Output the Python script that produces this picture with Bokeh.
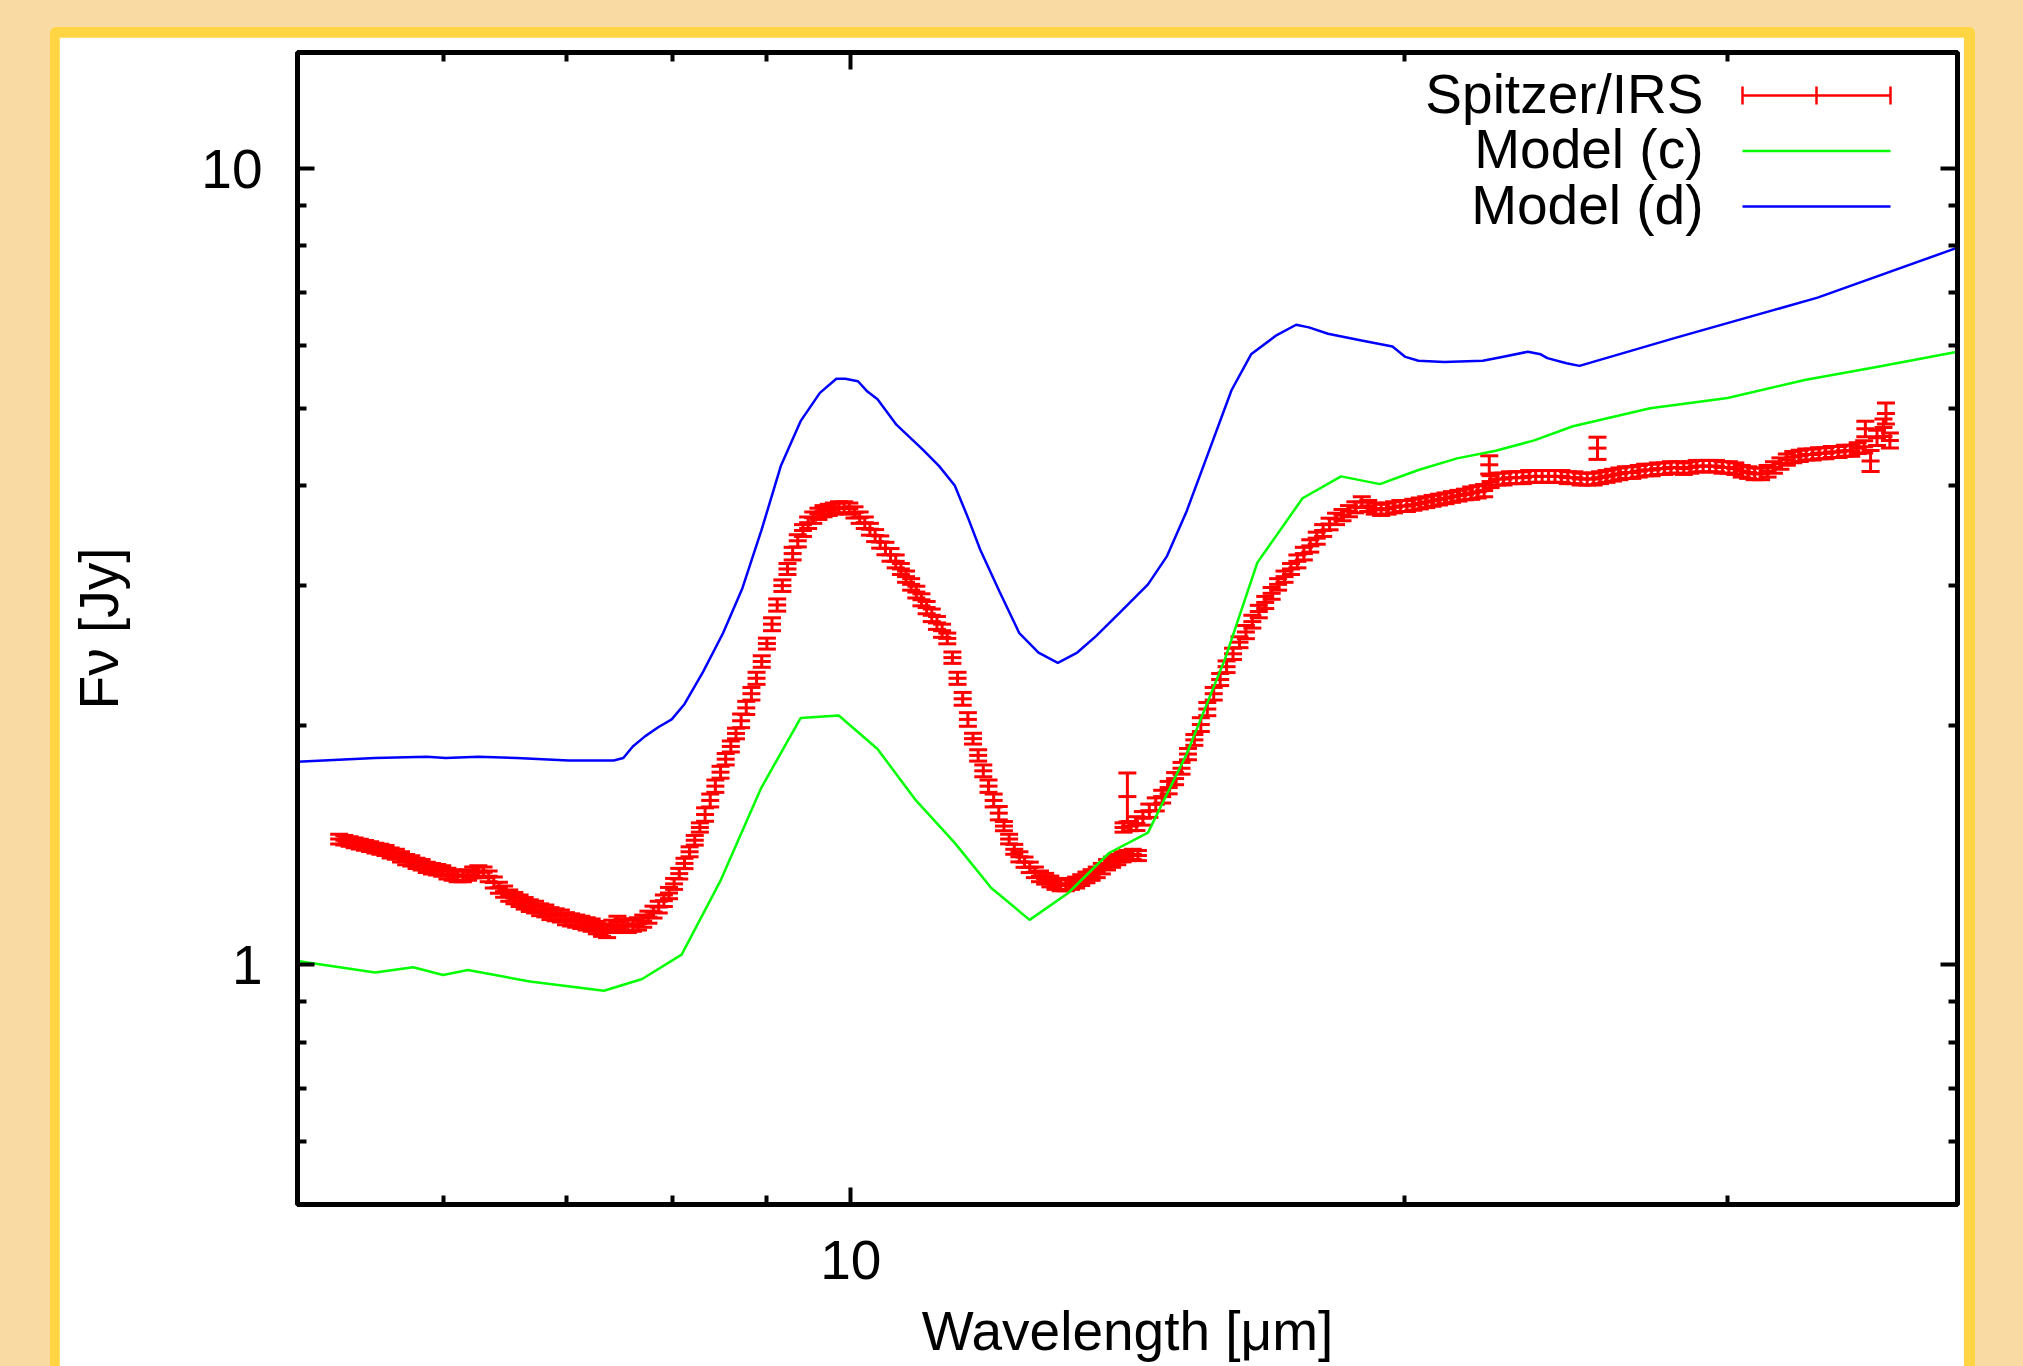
import numpy as np
from bokeh.plotting import figure
from bokeh.layouts import column
from bokeh.models import (Range1d, FixedTicker, LogAxis, Label, Arrow,
                          ColumnDataSource, BasicTickFormatter)
from bokeh.embed import file_html
from bokeh.resources import INLINE

# ---------------- data ----------------
# Spitzer/IRS short-low part
wl_sl = [5.268, 5.302, 5.337, 5.371, 5.406, 5.441, 5.476, 5.512, 5.547, 5.583,
         5.619, 5.656, 5.692, 5.729, 5.766, 5.804, 5.841, 5.879, 5.917, 5.956,
         5.994, 6.033, 6.072, 6.111, 6.151, 6.191, 6.231, 6.271, 6.312, 6.353,
         6.394, 6.435, 6.477, 6.519, 6.561, 6.604, 6.646, 6.689, 6.733, 6.776,
         6.820, 6.864, 6.909, 6.954, 6.999, 7.044, 7.089, 7.135, 7.182, 7.228,
         7.275, 7.322, 7.369, 7.417, 7.465, 7.513, 7.562, 7.611, 7.660, 7.710,
         7.760, 7.810, 7.861, 7.912, 7.963, 8.014, 8.066, 8.119, 8.171, 8.224,
         8.277, 8.331, 8.385, 8.439, 8.494, 8.549, 8.604, 8.660, 8.716, 8.772,
         8.829, 8.886, 8.944, 9.002, 9.060, 9.119, 9.178, 9.237, 9.297, 9.357,
         9.418, 9.479, 9.540, 9.602, 9.664, 9.727, 9.790, 9.853, 9.917, 9.981,
         10.046, 10.111, 10.176, 10.242, 10.309, 10.375, 10.443, 10.510, 10.578, 10.647,
         10.716, 10.785, 10.855, 10.925, 10.996, 11.067, 11.139, 11.211, 11.284, 11.357,
         11.430, 11.504, 11.579, 11.654, 11.729, 11.805, 11.882, 11.959, 12.036, 12.114,
         12.193, 12.272, 12.351, 12.431, 12.512, 12.593, 12.674, 12.756, 12.839, 12.922,
         13.006, 13.090, 13.175, 13.260, 13.346, 13.433, 13.520, 13.607, 13.695, 13.784,
         13.873, 13.963, 14.053, 14.144, 14.236, 14.328]
f_sl = [1.439, 1.434, 1.429, 1.423, 1.418, 1.413, 1.408, 1.402, 1.397, 1.392,
        1.382, 1.377, 1.367, 1.356, 1.351, 1.341, 1.336, 1.326, 1.321, 1.317,
        1.312, 1.302, 1.297, 1.292, 1.292, 1.297, 1.307, 1.312, 1.307, 1.292,
        1.269, 1.250, 1.236, 1.222, 1.213, 1.204, 1.195, 1.187, 1.182, 1.173,
        1.169, 1.160, 1.156, 1.152, 1.143, 1.139, 1.135, 1.131, 1.126, 1.122,
        1.114, 1.106, 1.102, 1.118, 1.131, 1.122, 1.118, 1.122, 1.126, 1.135,
        1.148, 1.165, 1.182, 1.204, 1.231, 1.264, 1.302, 1.341, 1.387, 1.434,
        1.488, 1.545, 1.609, 1.677, 1.746, 1.813, 1.881, 1.953, 2.026, 2.103,
        2.191, 2.291, 2.405, 2.533, 2.679, 2.832, 2.995, 3.143, 3.286, 3.410,
        3.513, 3.593, 3.646, 3.687, 3.715, 3.729, 3.743, 3.757, 3.757, 3.743,
        3.702, 3.646, 3.593, 3.526, 3.462, 3.398, 3.335, 3.274, 3.213, 3.143,
        3.074, 3.006, 2.940, 2.875, 2.811, 2.749, 2.689, 2.629, 2.571, 2.432,
        2.291, 2.159, 2.034, 1.924, 1.833, 1.753, 1.677, 1.609, 1.551, 1.494,
        1.439, 1.397, 1.367, 1.346, 1.326, 1.307, 1.292, 1.283, 1.273, 1.264,
        1.259, 1.259, 1.264, 1.269, 1.278, 1.288, 1.297, 1.307, 1.321, 1.336,
        1.346, 1.356, 1.367, 1.372, 1.377, 1.372]
e_sl = [0.02, 0.02, 0.02, 0.02, 0.02, 0.02, 0.02, 0.02, 0.02, 0.02,
        0.02, 0.02, 0.02, 0.02, 0.02, 0.02, 0.02, 0.02, 0.02, 0.02,
        0.02, 0.02, 0.02, 0.02, 0.02, 0.02, 0.02, 0.02, 0.02, 0.02,
        0.02, 0.02, 0.02, 0.02, 0.02, 0.02, 0.02, 0.02, 0.02, 0.02,
        0.02, 0.02, 0.02, 0.02, 0.02, 0.02, 0.02, 0.02, 0.02, 0.02,
        0.02, 0.02, 0.02, 0.02, 0.02, 0.02, 0.02, 0.02, 0.02, 0.02,
        0.02, 0.02, 0.02, 0.02, 0.02, 0.02, 0.02, 0.02, 0.02, 0.02,
        0.02, 0.03, 0.03, 0.03, 0.03, 0.03, 0.03, 0.03, 0.04, 0.04,
        0.04, 0.04, 0.04, 0.04, 0.05, 0.05, 0.05, 0.05, 0.06, 0.06,
        0.06, 0.06, 0.06, 0.06, 0.06, 0.06, 0.06, 0.06, 0.06, 0.06,
        0.06, 0.06, 0.06, 0.06, 0.06, 0.06, 0.06, 0.06, 0.06, 0.05,
        0.05, 0.05, 0.05, 0.05, 0.05, 0.05, 0.05, 0.05, 0.04, 0.04,
        0.04, 0.04, 0.04, 0.03, 0.03, 0.03, 0.03, 0.03, 0.03, 0.02,
        0.02, 0.02, 0.02, 0.02, 0.02, 0.02, 0.02, 0.02, 0.02, 0.02,
        0.02, 0.02, 0.02, 0.02, 0.02, 0.02, 0.02, 0.02, 0.02, 0.02,
        0.02, 0.02, 0.02, 0.02, 0.02, 0.02]

# Spitzer/IRS long-low part
wl_ll = [14.072, 14.186, 14.301, 14.417, 14.534, 14.652, 14.770, 14.890, 15.011, 15.132,
         15.255, 15.378, 15.503, 15.629, 15.755, 15.883, 16.011, 16.141, 16.272, 16.403,
         16.536, 16.670, 16.805, 16.941, 17.078, 17.216, 17.356, 17.496, 17.638, 17.781,
         17.925, 18.070, 18.216, 18.364, 18.513, 18.663, 18.814, 18.966, 19.120, 19.275,
         19.431, 19.588, 19.747, 19.907, 20.068, 20.231, 20.395, 20.560, 20.726, 20.894,
         21.063, 21.234, 21.406, 21.579, 21.754, 21.930, 22.108, 22.287, 22.468, 22.650,
         22.833, 23.018, 23.204, 23.392, 23.582, 23.773, 23.965, 24.159, 24.355, 24.552,
         24.751, 24.952, 25.154, 25.358, 25.563, 25.770, 25.979, 26.189, 26.401, 26.615,
         26.831, 27.048, 27.267, 27.488, 27.711, 27.935, 28.162, 28.390, 28.620, 28.851,
         29.085, 29.321, 29.558, 29.798, 30.039, 30.282, 30.528, 30.775, 31.024, 31.275,
         31.529, 31.784, 32.042, 32.301, 32.563, 32.827, 33.093, 33.361, 33.631, 33.903,
         34.178, 34.455, 34.734, 35.015, 35.299, 35.585, 35.873, 36.164, 36.457, 36.752]
f_ll = [1.488, 1.494, 1.505, 1.528, 1.562, 1.591, 1.627, 1.670, 1.714, 1.766,
        1.840, 1.917, 2.004, 2.096, 2.191, 2.283, 2.369, 2.459, 2.543, 2.619,
        2.699, 2.779, 2.853, 2.929, 3.006, 3.074, 3.143, 3.213, 3.286, 3.360,
        3.436, 3.513, 3.580, 3.633, 3.673, 3.715, 3.757, 3.813, 3.771, 3.743,
        3.729, 3.743, 3.757, 3.771, 3.771, 3.785, 3.799, 3.813, 3.828, 3.842,
        3.856, 3.871, 3.885, 3.899, 3.914, 3.929, 3.943, 4.047, 4.077, 4.077,
        4.093, 4.093, 4.093, 4.108, 4.108, 4.108, 4.108, 4.108, 4.108, 4.093,
        4.093, 4.077, 4.077, 4.077, 4.093, 4.108, 4.123, 4.139, 4.154, 4.154,
        4.170, 4.185, 4.185, 4.201, 4.201, 4.216, 4.216, 4.201, 4.216, 4.232,
        4.232, 4.232, 4.232, 4.216, 4.216, 4.201, 4.170, 4.154, 4.139, 4.139,
        4.170, 4.216, 4.264, 4.312, 4.344, 4.360, 4.376, 4.376, 4.392, 4.392,
        4.409, 4.409, 4.425, 4.425, 4.458, 4.475, 4.296, 4.593, 4.731, 4.559]
e_ll = [0.02, 0.02, 0.03, 0.03, 0.03, 0.03, 0.03, 0.03, 0.03, 0.03,
        0.03, 0.03, 0.04, 0.04, 0.04, 0.04, 0.04, 0.04, 0.04, 0.05,
        0.05, 0.05, 0.05, 0.05, 0.05, 0.05, 0.05, 0.06, 0.06, 0.06,
        0.06, 0.06, 0.06, 0.06, 0.06, 0.06, 0.06, 0.06, 0.06, 0.06,
        0.06, 0.06, 0.06, 0.06, 0.06, 0.06, 0.06, 0.06, 0.06, 0.06,
        0.06, 0.06, 0.06, 0.06, 0.07, 0.07, 0.07, 0.07, 0.07, 0.07,
        0.07, 0.07, 0.07, 0.07, 0.07, 0.07, 0.07, 0.07, 0.07, 0.07,
        0.07, 0.07, 0.07, 0.07, 0.07, 0.07, 0.07, 0.07, 0.07, 0.07,
        0.07, 0.07, 0.07, 0.07, 0.07, 0.07, 0.07, 0.07, 0.07, 0.07,
        0.07, 0.07, 0.07, 0.07, 0.07, 0.07, 0.07, 0.07, 0.07, 0.07,
        0.07, 0.07, 0.07, 0.07, 0.07, 0.07, 0.07, 0.07, 0.07, 0.07,
        0.07, 0.07, 0.07, 0.07, 0.07, 0.08, 0.13, 0.10, 0.12, 0.10]

# isolated points with large error bars
wl_out = [14.140, 22.25, 25.48, 35.64, 36.57]
f_out = [1.627, 4.248, 4.458, 4.714, 4.929]
e_out = [0.115, 0.112, 0.143, 0.106, 0.149]

# Model (c)
wl_c = [5.00, 5.51, 5.78, 6.00, 6.19, 6.69, 7.34, 7.70, 8.09, 8.49, 8.94, 9.39, 9.85,
        10.34, 10.85, 11.39, 11.92, 12.51, 13.13, 13.82, 14.51, 15.23, 15.98, 16.64,
        17.61, 18.48, 19.40, 20.36, 21.37, 22.43, 23.54, 24.71, 27.22, 29.99, 33.03,
        36.39, 40.00]
f_c = [1.011, 0.978, 0.993, 0.971, 0.985, 0.953, 0.928, 0.960, 1.030, 1.273, 1.670,
       2.042, 2.057, 1.867, 1.609, 1.423, 1.250, 1.139, 1.231, 1.382, 1.466, 1.840,
       2.423, 3.201, 3.856, 4.108, 4.017, 4.185, 4.328, 4.425, 4.559, 4.749, 5.003,
       5.154, 5.429, 5.655, 5.891]

# Model (d)
wl_d = [5.00, 5.51, 5.88, 6.02, 6.27, 6.58, 7.02, 7.43, 7.52, 7.61, 7.73, 7.86, 7.99,
        8.12, 8.31, 8.52, 8.73, 8.94, 9.16, 9.39, 9.62, 9.82, 9.93, 10.09, 10.21,
        10.34, 10.59, 10.94, 11.17, 11.39, 11.58, 11.76, 12.05, 12.35, 12.65, 12.96,
        13.28, 13.60, 14.05, 14.51, 14.86, 15.23, 15.60, 16.11, 16.51, 17.05, 17.47,
        17.75, 18.18, 18.93, 19.71, 20.03, 20.36, 21.03, 22.07, 22.61, 23.35, 23.73,
        23.93, 24.51, 24.91, 28.12, 33.57, 40.00]
f_d = [1.799, 1.819, 1.826, 1.819, 1.826, 1.819, 1.806, 1.806, 1.819, 1.881, 1.938,
       1.990, 2.034, 2.127, 2.334, 2.610, 2.973, 3.513, 4.232, 4.820, 5.231, 5.449,
       5.449, 5.409, 5.250, 5.135, 4.767, 4.442, 4.232, 4.002, 3.646, 3.323, 2.940,
       2.610, 2.468, 2.396, 2.468, 2.590, 2.790, 3.006, 3.262, 3.715, 4.312, 5.270,
       5.848, 6.183, 6.370, 6.322, 6.206, 6.092, 5.980, 5.804, 5.740, 5.719, 5.740,
       5.804, 5.891, 5.848, 5.783, 5.698, 5.655, 6.137, 6.889, 7.961]

x_major = [10]
x_minor = [6, 7, 8, 9, 20, 30]
y_major = [1, 10]
y_minor = [0.6, 0.7, 0.8, 0.9, 2, 3, 4, 5, 6, 7, 8, 9]
x_labels = {10: "10"}
y_labels = {1: "1", 10: "10"}
legend_names = ["Spitzer/IRS", "Model (c)", "Model (d)"]
x_title = "Wavelength [\u03bcm]"
y_title = "F\u03bd [Jy]"

assert len(wl_sl) == len(f_sl) == len(e_sl)
assert len(wl_ll) == len(f_ll) == len(e_ll)
assert len(wl_c) == len(f_c) and len(wl_d) == len(f_d)

# ---------------- styling ----------------
PEACH = "#F8DAA2"
YELLOW = "#FFD543"
RED = "#FF0000"
GREEN = "#00FF00"
BLUE = "#0000FF"
FONT = "Liberation Sans"
FS = "55px"

W, H = 2023, 1366
# white panel (figure canvas) placed at page (PX, PY)
PX, PY = 59, 37
PW, PH = 1905, H - PY
FL, FR, FT, FB = 297, 1957, 52, 1204   # frame edges in page pixels


def sx(X):
    return X - FL


def sy(Y):
    return FB - Y


p = figure(width=PW, height=PH, x_axis_type="log", y_axis_type="log",
           x_range=Range1d(5, 40), y_range=Range1d(0.5, 14),
           output_backend="svg", toolbar_location=None, title=None,
           min_border_left=FL - PX, min_border_right=PX + PW - FR,
           min_border_top=FT - PY, min_border_bottom=PY + PH - FB)
p.margin = (10, 11, 0, 9)
p.border_fill_color = "white"
p.background_fill_color = "white"
p.outline_line_color = "black"
p.outline_line_width = 5
p.grid.visible = False

bottom_ax = p.below[0]
left_ax = p.left[0]
top_ax = LogAxis()
right_ax = LogAxis()
p.add_layout(top_ax, "above")
p.add_layout(right_ax, "right")

for ax in [bottom_ax, top_ax]:
    ax.ticker = FixedTicker(ticks=x_major, minor_ticks=x_minor)
for ax in [left_ax, right_ax]:
    ax.ticker = FixedTicker(ticks=y_major, minor_ticks=y_minor)

for ax in [bottom_ax, top_ax, left_ax, right_ax]:
    ax.axis_line_color = "black"
    ax.axis_line_width = 5
    ax.major_tick_in = 17
    ax.major_tick_out = 0
    ax.minor_tick_in = 9
    ax.minor_tick_out = 0
    ax.major_tick_line_width = 4
    ax.minor_tick_line_width = 4
    ax.major_tick_line_color = "black"
    ax.minor_tick_line_color = "black"
    ax.formatter = BasicTickFormatter()
    ax.major_label_text_font = FONT
    ax.major_label_text_color = "black"
    ax.axis_label = None

bottom_ax.major_label_overrides = x_labels
left_ax.major_label_overrides = y_labels
bottom_ax.major_label_text_font_size = FS
left_ax.major_label_text_font_size = FS
bottom_ax.major_label_standoff = 36
left_ax.major_label_standoff = 35
top_ax.major_label_overrides = {v: "" for v in x_major}
right_ax.major_label_overrides = {v: "" for v in y_major}
for ax in [top_ax, right_ax]:
    ax.major_label_text_font_size = "0px"
    ax.major_label_standoff = 0

left_ax.axis_label = y_title
left_ax.axis_label_text_font = FONT
left_ax.axis_label_text_font_size = FS
left_ax.axis_label_text_font_style = "normal"
left_ax.axis_label_text_color = "black"
left_ax.axis_label_standoff = 68

bottom_ax.axis_label = x_title
bottom_ax.axis_label_text_font = FONT
bottom_ax.axis_label_text_font_size = FS
bottom_ax.axis_label_text_font_style = "normal"
bottom_ax.axis_label_text_color = "black"
bottom_ax.axis_label_standoff = 18

# ---------------- data glyphs ----------------
wl = np.array(wl_sl + wl_ll + wl_out)
fl = np.array(f_sl + f_ll + f_out)
er = np.array(e_sl + e_ll + e_out)
src = ColumnDataSource(dict(x=wl, y=fl, lo=fl - er, hi=fl + er))

p.segment(x0="x", y0="lo", x1="x", y1="hi", source=src, line_color=RED, line_width=3)
for col in ["lo", "hi", "y"]:
    p.scatter(x="x", y=col, source=src, marker="dash", size=18,
              line_color=RED, line_width=3)

p.line(wl_c, f_c, line_color=GREEN, line_width=2.5)
p.line(wl_d, f_d, line_color=BLUE, line_width=2.5)

# ---------------- legend (gnuplot style: text then sample) ----------------
rows = [95, 150.5, 206]
colors = [RED, GREEN, BLUE]
X0, X1, XT = 1742, 1890, 1703
for name, row, col in zip(legend_names, rows, colors):
    p.add_layout(Label(x=sx(XT), y=sy(row - 2), x_units="screen", y_units="screen",
                       text=name, text_align="right", text_baseline="middle",
                       text_font=FONT, text_font_size=FS, text_color="black"))
    p.add_layout(Arrow(start=None, end=None, x_start=sx(X0), y_start=sy(row),
                       x_end=sx(X1), y_end=sy(row), start_units="screen", end_units="screen",
                       line_color=col, line_width=2.5))
for xc in [X0, (X0 + X1) / 2, X1]:
    p.add_layout(Arrow(start=None, end=None, x_start=sx(xc), y_start=sy(rows[0] - 9),
                       x_end=sx(xc), y_end=sy(rows[0] + 9), start_units="screen", end_units="screen",
                       line_color=RED, line_width=2.5))

# ---------------- page: peach background, yellow rim around the white panel ----------------
rim = column(p, styles={"background-color": YELLOW, "border-radius": "6px 6px 0 0"},
             margin=(PY - 10, W - (PX + PW) - 11, 0, PX - 9))
page = column(rim, styles={"background-color": PEACH}, width=W, height=H)

open("out.html", "w").write(file_html(page, INLINE))
